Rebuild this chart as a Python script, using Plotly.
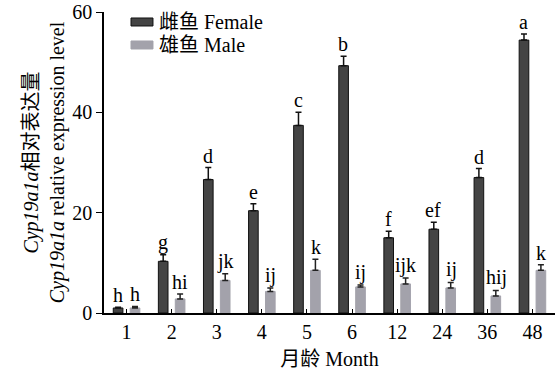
import plotly.graph_objects as go

months = ["1", "2", "3", "4", "5", "6", "12", "24", "36", "48"]
female = [1.0, 10.3, 26.6, 20.4, 37.4, 49.3, 15.0, 16.7, 27.0, 54.4]
female_err = [0.15, 1.3, 2.4, 1.4, 2.6, 1.9, 1.3, 1.4, 1.8, 1.2]
male = [1.0, 2.8, 6.5, 4.3, 8.5, 5.2, 5.8, 5.0, 3.4, 8.5]
male_err = [0.3, 1.0, 1.3, 0.7, 2.2, 0.4, 1.2, 1.1, 1.1, 1.1]
female_letters = ["h", "g", "d", "e", "c", "b", "f", "ef", "d", "a"]
male_letters = ["h", "hi", "jk", "ij", "k", "ij", "ijk", "ij", "hij", "k"]
series_names = ["雌鱼 Female", "雄鱼 Male"]

FONT = "Liberation Serif, Times New Roman, Noto Sans CJK SC, serif"
FS = 20
C_F = "#444444"
C_M = "#a3a2ab"

fig = go.Figure()
fig.add_trace(go.Bar(
    x=months, y=female, name=series_names[0], showlegend=False,
    marker=dict(color=C_F, line=dict(color="#111111", width=1)),
    error_y=dict(type="data", array=female_err, symmetric=False,
                 arrayminus=[0] * len(female), color="#111111",
                 thickness=1.5, width=3),
))
fig.add_trace(go.Bar(
    x=months, y=male, name=series_names[1], showlegend=False,
    marker=dict(color=C_M, line=dict(color=C_M, width=1)),
    error_y=dict(type="data", array=male_err, symmetric=False,
                 arrayminus=[0] * len(male), color="#222222",
                 thickness=1.5, width=3),
))

annotations = []
shift = 8.8
for i, m in enumerate(months):
    annotations.append(dict(x=i, y=female[i] + female_err[i], text=female_letters[i],
                            xref="x", yref="y", showarrow=False, xanchor="center",
                            yanchor="bottom", xshift=-shift, yshift=-1,
                            font=dict(family=FONT, size=FS, color="black")))
    annotations.append(dict(x=i, y=male[i] + male_err[i], text=male_letters[i],
                            xref="x", yref="y", showarrow=False, xanchor="center",
                            yanchor="bottom", xshift=shift, yshift=-1,
                            font=dict(family=FONT, size=FS, color="black")))

# legend drawn as swatches + labels (paper coordinates)
shapes = []
leg_y = [0.9668, 0.8904]
leg_cols = [(C_F, "#111111"), (C_M, C_M)]
for k in range(2):
    fill, line = leg_cols[k]
    shapes.append(dict(type="rect", xref="paper", yref="paper",
                       x0=0.0599, x1=0.1086, y0=leg_y[k] - 0.0133, y1=leg_y[k] + 0.0133,
                       fillcolor=fill, line=dict(color=line, width=1)))
    annotations.append(dict(x=0.117, y=leg_y[k], xref="paper", yref="paper",
                            text=series_names[k], showarrow=False,
                            xanchor="left", yanchor="middle",
                            font=dict(family=FONT, size=FS, color="black")))

fig.update_layout(
    width=555, height=376,
    margin=dict(l=104, r=0, t=12, b=63, autoexpand=False),
    paper_bgcolor="white", plot_bgcolor="white",
    barmode="group", bargap=0.25, bargroupgap=0.43,
    font=dict(family=FONT, size=FS, color="black"),
    showlegend=False,
    annotations=annotations,
    shapes=shapes,
    xaxis=dict(type="category", showline=True, linecolor="black", linewidth=1.5,
               ticks="inside", ticklen=4, tickcolor="black", tickwidth=1,
               range=[-0.5, 9.5], showgrid=False, zeroline=False, automargin=False,
               title=dict(text="月龄 Month", standoff=10,
                          font=dict(family=FONT, size=FS, color="black")),
               tickfont=dict(family=FONT, size=FS, color="black")),
    yaxis=dict(range=[0, 60], tickvals=[0, 20, 40, 60], showline=True,
               linecolor="black", linewidth=1.5, ticks="outside", ticklen=6,
               tickcolor="black", showgrid=False, zeroline=False, automargin=False,
               title=dict(text="<i>Cyp19a1a</i>相对表达量<br><i>Cyp19a1a</i> relative expression level",
                          standoff=2, font=dict(family=FONT, size=FS, color="black")),
               tickfont=dict(family=FONT, size=FS, color="black")),
)

fig.write_html("out.html", config={"displayModeBar": False},
               post_script="document.body.style.margin='0';document.body.style.overflow='hidden';")
